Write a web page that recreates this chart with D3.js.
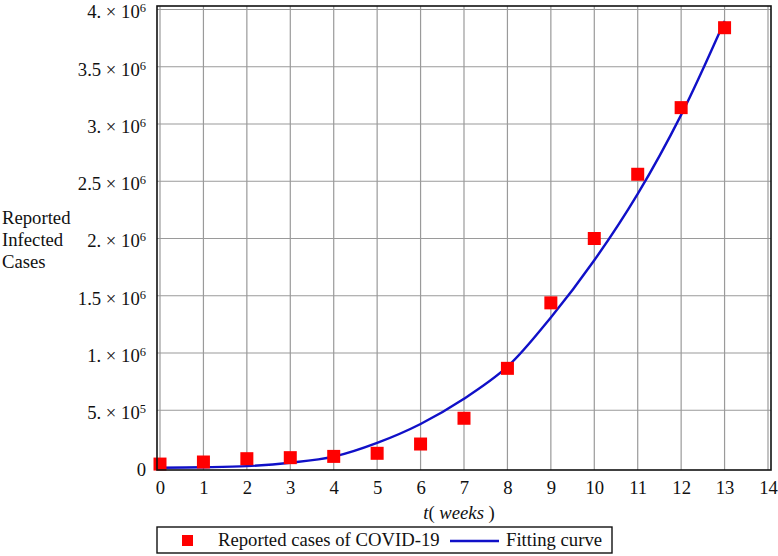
<!DOCTYPE html>
<html>
<head>
<meta charset="utf-8">
<script src="https://cdn.jsdelivr.net/npm/d3@7"></script>
<style>
  body { margin: 0; background: #fff; }
  svg { display: block; }
</style>
</head>
<body>
<main></main>
<script>
// weeks and reported cases
const weeks = [0, 1, 2, 3, 4, 5, 6, 7, 8, 9, 10, 11, 12, 13];
const reported = [
  30000, 48000, 77000, 86000, 97000, 124000, 205000, 430000, 866000,
  1438000, 2000000, 2561000, 3143000, 3841000,
];
// fitting curve, sampled at each week
const fitWeeks = [0, 1, 2, 3, 4, 5, 6, 7, 8, 9, 10, 11, 12, 13];
const fitted = [
  -2000, 2000, 12000, 42000, 95000, 215000, 380000, 600000, 880000,
  1310000, 1810000, 2390000, 3080000, 3900000,
];

const xTicks = [0, 1, 2, 3, 4, 5, 6, 7, 8, 9, 10, 11, 12, 13, 14];
const yTicks = [0, 500000, 1000000, 1500000, 2000000, 2500000, 3000000, 3500000, 4000000];
const yTickMantissa = ['0', '5.', '1.', '1.5', '2.', '2.5', '3.', '3.5', '4.'];
const yTickExponent = ['', '5', '6', '6', '6', '6', '6', '6', '6'];
const yTitleLines = ['Reported', 'Infected', 'Cases'];

const fontFamily = '"Liberation Serif", "Times New Roman", serif';
const fontSize = 18.7;

const dimensions = {
  width: 778,
  height: 556,
  margin: { top: 9.5, right: 10, bottom: 88.5, left: 160 },
};
dimensions.boundedWidth = 608;
dimensions.boundedHeight =
  dimensions.height - (dimensions.margin.top + dimensions.margin.bottom);

const svg = d3
  .select('main')
  .append('svg')
  .attr('width', dimensions.width)
  .attr('height', dimensions.height)
  .style('font-family', fontFamily);

const xScale = d3
  .scaleLinear()
  .domain([0, 14])
  .range([dimensions.margin.left, dimensions.margin.left + dimensions.boundedWidth]);

const yScale = d3
  .scaleLinear()
  .domain([0, 4000000])
  .range([dimensions.margin.top + dimensions.boundedHeight, dimensions.margin.top]);

const frame = {
  x0: xScale(0) - 3,
  x1: xScale(14) + 3,
  y0: yScale(4000000) - 3.5,
  y1: yScale(0) + 2.5,
};

// grid
const grid = svg.append('g').attr('stroke', '#9a9a9a').attr('stroke-width', 1.2);
grid
  .selectAll('line.v')
  .data(xTicks)
  .join('line')
  .attr('class', 'v')
  .attr('x1', d => xScale(d))
  .attr('x2', d => xScale(d))
  .attr('y1', frame.y0)
  .attr('y2', frame.y1);
grid
  .selectAll('line.h')
  .data(yTicks.slice(1))
  .join('line')
  .attr('class', 'h')
  .attr('x1', frame.x0)
  .attr('x2', frame.x1)
  .attr('y1', d => yScale(d))
  .attr('y2', d => yScale(d));

// x axis labels
const xAxis = d3
  .axisBottom(xScale)
  .tickValues(xTicks)
  .tickSize(0)
  .tickPadding(0)
  .tickFormat(d3.format('d'));

const xAxisGroup = svg
  .append('g')
  .attr('transform', `translate(0 ${frame.y1 + 11})`)
  .call(xAxis);
xAxisGroup.select('path').remove();
xAxisGroup
  .selectAll('text')
  .attr('fill', '#111')
  .style('font-family', fontFamily)
  .style('font-size', `${fontSize}px`);

// y axis labels
const yAxis = d3
  .axisLeft(yScale)
  .tickValues(yTicks)
  .tickSize(0)
  .tickPadding(0)
  .tickFormat('');

const yAxisGroup = svg
  .append('g')
  .attr('transform', `translate(${frame.x0 - 11} 0)`)
  .call(yAxis);
yAxisGroup.select('path').remove();
yAxisGroup
  .selectAll('g.tick text')
  .attr('fill', '#111')
  .style('font-family', fontFamily)
  .style('font-size', `${fontSize}px`)
  .attr('dy', '0.45em')
  .each(function (d, i) {
    const t = d3.select(this);
    if (yTickExponent[i] === '') {
      t.append('tspan').text(yTickMantissa[i]);
      return;
    }
    t.append('tspan').text(`${yTickMantissa[i]} \u00d7 10`);
    t.append('tspan')
      .attr('dy', -6)
      .style('font-size', '12.5px')
      .text(yTickExponent[i]);
  });

// y title
svg
  .append('text')
  .style('font-size', `${fontSize}px`)
  .attr('fill', '#111')
  .selectAll('tspan')
  .data(yTitleLines)
  .join('tspan')
  .attr('x', 2)
  .attr('y', (d, i) => 224 + i * 22)
  .text(d => d);

// x title
const xTitle = svg
  .append('text')
  .attr('x', 459)
  .attr('y', 519)
  .attr('text-anchor', 'middle')
  .style('font-size', `${fontSize}px`)
  .attr('fill', '#111');
xTitle.append('tspan').attr('font-style', 'italic').text('t');
xTitle.append('tspan').text('( ');
xTitle.append('tspan').attr('font-style', 'italic').text('weeks');
xTitle.append('tspan').text(' )');

// fitting curve
const line = d3
  .line()
  .x((d, i) => xScale(fitWeeks[i]))
  .y(d => yScale(d))
  .curve(d3.curveCatmullRom);

svg
  .append('path')
  .attr('d', line(fitted))
  .attr('fill', 'none')
  .attr('stroke', '#1010c8')
  .attr('stroke-width', 2.4);

// reported cases
const markerSize = 13;
svg
  .append('g')
  .selectAll('rect')
  .data(reported)
  .join('rect')
  .attr('x', (d, i) => xScale(weeks[i]) - markerSize / 2)
  .attr('y', d => yScale(d) - markerSize / 2)
  .attr('width', markerSize)
  .attr('height', markerSize)
  .attr('fill', '#ff0000');

// frame
svg
  .append('rect')
  .attr('x', frame.x0)
  .attr('y', frame.y0)
  .attr('width', frame.x1 - frame.x0)
  .attr('height', frame.y1 - frame.y0)
  .attr('fill', 'none')
  .attr('stroke', '#111')
  .attr('stroke-width', 1.6);

// legend
const legend = svg.append('g');
legend
  .append('rect')
  .attr('x', 157)
  .attr('y', 527)
  .attr('width', 455)
  .attr('height', 26)
  .attr('fill', '#fff')
  .attr('stroke', '#111')
  .attr('stroke-width', 1.4);
legend
  .append('rect')
  .attr('x', 182)
  .attr('y', 535)
  .attr('width', 11)
  .attr('height', 11)
  .attr('fill', '#ff0000');
legend
  .append('text')
  .attr('x', 218)
  .attr('y', 546)
  .style('font-size', `${fontSize}px`)
  .attr('fill', '#111')
  .text('Reported cases of COVID-19');
legend
  .append('line')
  .attr('x1', 450)
  .attr('x2', 499)
  .attr('y1', 541)
  .attr('y2', 541)
  .attr('stroke', '#1010c8')
  .attr('stroke-width', 2.4);
legend
  .append('text')
  .attr('x', 506)
  .attr('y', 546)
  .style('font-size', `${fontSize}px`)
  .attr('fill', '#111')
  .text('Fitting curve');
</script>
</body>
</html>
